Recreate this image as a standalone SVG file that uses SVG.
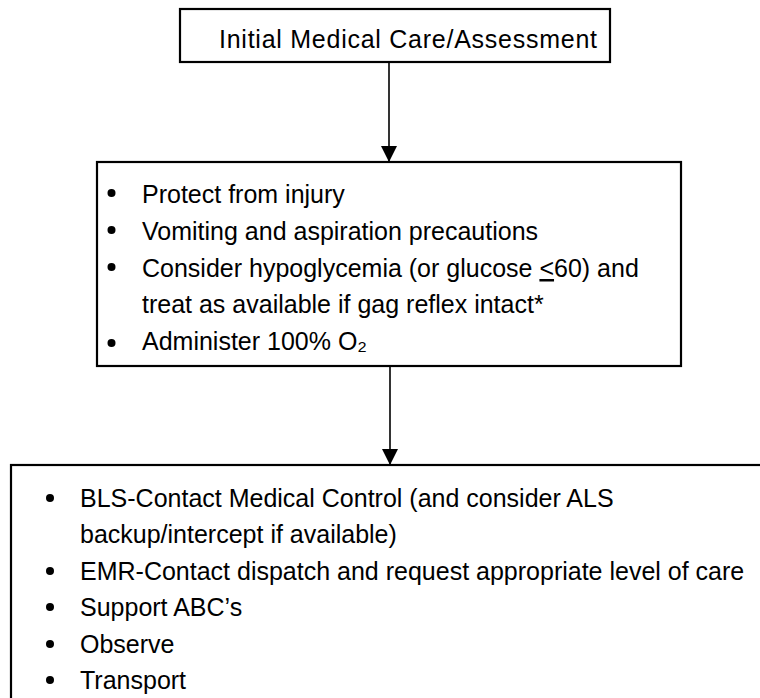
<svg xmlns="http://www.w3.org/2000/svg" width="760" height="698" viewBox="0 0 760 698">
<style>
.box{fill:#fff;stroke:#000;stroke-width:2.2}
.t{font-family:"Liberation Sans",Arial,sans-serif;font-size:25px;fill:#000}
.conn{stroke:#000;stroke-width:1.6;fill:none}
</style>
<defs>
<marker id="ah" markerWidth="16" markerHeight="16" viewBox="0 0 16 16" refX="16" refY="8" orient="auto" markerUnits="userSpaceOnUse">
<path d="M0,0 L16,8 L0,16 Z" fill="#000"/>
</marker>
</defs>
<rect width="760" height="698" fill="#fff"/>
<g id="connectors">
<line class="conn" x1="389" y1="62" x2="389" y2="162" marker-end="url(#ah)"/>
<line class="conn" x1="390" y1="366" x2="390" y2="465" marker-end="url(#ah)"/>
</g>
<g id="node-initial">
<rect class="box" x="180" y="9" width="430" height="53"/>
<text class="t" x="219" y="48" font-size="26.5" textLength="378">Initial Medical Care/Assessment</text>
</g>
<g id="node-care">
<rect class="box" x="97" y="162" width="584" height="204"/>
<circle cx="111.5" cy="193" r="4"/>
<text class="t" x="142" y="203">Protect from injury</text>
<circle cx="111.5" cy="230" r="4"/>
<text class="t" x="142" y="240">Vomiting and aspiration precautions</text>
<circle cx="111.5" cy="267" r="4"/>
<text class="t" x="142" y="277">Consider hypoglycemia (or glucose <tspan text-decoration="underline">&lt;</tspan>60) and</text>
<text class="t" x="142" y="313">treat as available if gag reflex intact*</text>
<circle cx="111.5" cy="343" r="4"/>
<text class="t" x="142" y="350">Administer 100% O₂</text>
</g>
<g id="node-actions">
<rect class="box" x="11" y="465" width="800" height="300"/>
<circle cx="50" cy="498" r="4"/>
<text class="t" x="80" y="507">BLS-Contact Medical Control (and consider ALS</text>
<text class="t" x="80" y="543">backup/intercept if available)</text>
<circle cx="50" cy="571" r="4"/>
<text class="t" x="80" y="580">EMR-Contact dispatch and request appropriate level of care</text>
<circle cx="50" cy="607" r="4"/>
<text class="t" x="80" y="616">Support ABC’s</text>
<circle cx="50" cy="644" r="4"/>
<text class="t" x="80" y="653">Observe</text>
<circle cx="50" cy="680" r="4"/>
<text class="t" x="80" y="689">Transport</text>
</g>
</svg>
